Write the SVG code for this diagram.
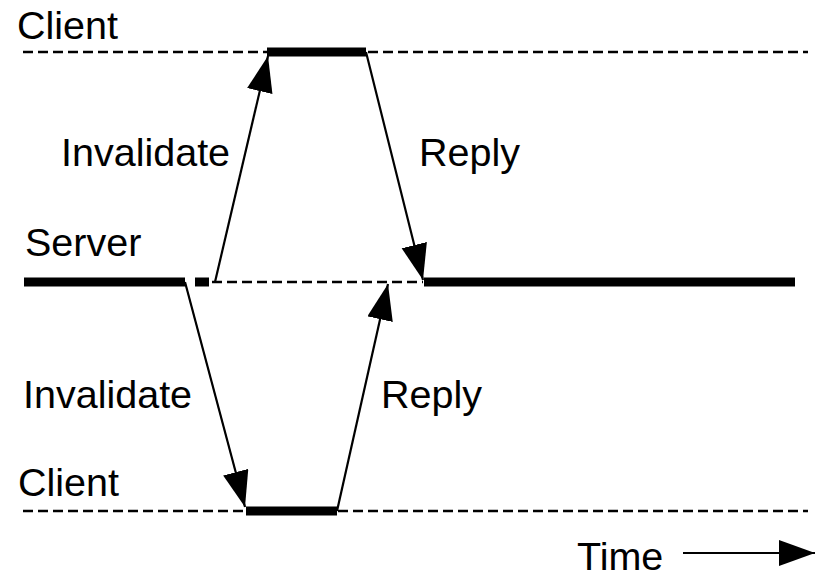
<svg xmlns="http://www.w3.org/2000/svg" width="823" height="579" viewBox="0 0 823 579">
  <style>
    .lbl { font-family: "Liberation Sans", Arial, Helvetica, sans-serif; font-size: 39.5px; fill: #000; }
    .dash { stroke: #000; stroke-width: 2.5; stroke-dasharray: 10 5; fill: none; }
    .busy { stroke: #000; stroke-width: 9; fill: none; }
    .msg { stroke: #000; stroke-width: 2.2; fill: none; marker-end: url(#head); }
  </style>
  <defs>
    <marker id="head" markerUnits="userSpaceOnUse" markerWidth="38" markerHeight="28" refX="36" refY="13" orient="auto">
      <path d="M0,0 L36,13 L0,26 z" fill="#000"/>
    </marker>
  </defs>
  <rect width="823" height="579" fill="#fff"/>

  <!-- timelines -->
  <g id="client-top">
    <line class="dash" x1="23" y1="52" x2="808" y2="52"/>
    <line class="busy" x1="267" y1="52" x2="366" y2="52"/>
    <text class="lbl" x="17" y="39">Client</text>
  </g>
  <g id="server">
    <line class="busy" x1="24" y1="282" x2="185" y2="282"/>
    <line class="busy" x1="195" y1="282" x2="209" y2="282"/>
    <line class="dash" x1="212" y1="282" x2="423" y2="282"/>
    <line class="busy" x1="424" y1="282" x2="795" y2="282"/>
    <text class="lbl" x="25" y="256">Server</text>
  </g>
  <g id="client-bottom">
    <line class="dash" x1="23" y1="511" x2="808" y2="511"/>
    <line class="busy" x1="246" y1="511" x2="337" y2="511"/>
    <text class="lbl" x="18" y="496">Client</text>
  </g>

  <!-- messages -->
  <g id="connectors">
    <line class="msg" x1="215" y1="282" x2="268" y2="56"/>
    <line class="msg" x1="366" y1="52" x2="423" y2="280"/>
    <line class="msg" x1="185" y1="282" x2="245" y2="507"/>
    <line class="msg" x1="337" y1="511" x2="388" y2="284"/>
    <line class="msg" x1="683" y1="553" x2="815" y2="553"/>
  </g>

  <g id="labels">
    <text class="lbl" x="61" y="166">Invalidate</text>
    <text class="lbl" x="419" y="166">Reply</text>
    <text class="lbl" x="23" y="408">Invalidate</text>
    <text class="lbl" x="381" y="408">Reply</text>
    <text class="lbl" x="577" y="570">Time</text>
  </g>
</svg>
